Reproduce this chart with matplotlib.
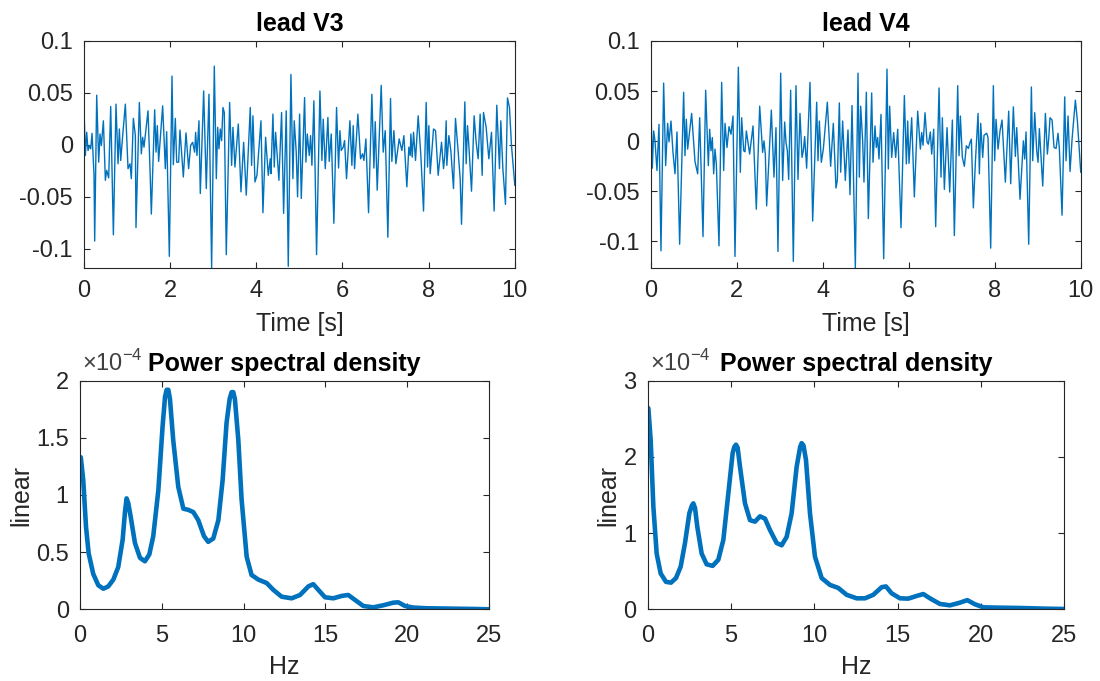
import numpy as np
import matplotlib
matplotlib.use("Agg")
import matplotlib.pyplot as plt

plt.rcParams['font.family'] = ['Liberation Sans', 'DejaVu Sans']
plt.rcParams['axes.unicode_minus'] = False
plt.rcParams['mathtext.fontset'] = 'custom'
plt.rcParams['mathtext.rm'] = 'Liberation Sans'

# ---- lead V3 (time [s], amplitude)
t_v3 = [0.000, 0.031, 0.062, 0.093, 0.124, 0.155, 0.186, 0.232, 0.247, 0.294, 0.340, 0.371, 0.402, 0.449,
        0.495, 0.526, 0.572, 0.619, 0.681, 0.742, 0.789, 0.820, 0.851, 0.897, 0.959, 1.021, 1.067, 1.098,
        1.145, 1.191, 1.206, 1.284, 1.330, 1.361, 1.392, 1.485, 1.531, 1.562, 1.640, 1.671, 1.701, 1.732,
        1.825, 1.887, 1.918, 1.980, 2.042, 2.073, 2.119, 2.150, 2.196, 2.227, 2.305, 2.367, 2.428, 2.475,
        2.521, 2.568, 2.591, 2.622, 2.668, 2.699, 2.777, 2.838, 2.900, 2.962, 3.024, 3.071, 3.102, 3.132,
        3.163, 3.194, 3.225, 3.256, 3.302, 3.380, 3.426, 3.457, 3.503, 3.581, 3.643, 3.705, 3.766, 3.859,
        3.890, 3.921, 3.968, 4.014, 4.107, 4.153, 4.215, 4.277, 4.323, 4.339, 4.385, 4.416, 4.447, 4.524,
        4.586, 4.633, 4.694, 4.741, 4.803, 4.849, 4.880, 4.926, 4.957, 5.004, 5.043, 5.120, 5.151, 5.182,
        5.228, 5.259, 5.290, 5.336, 5.398, 5.476, 5.522, 5.553, 5.600, 5.661, 5.692, 5.739, 5.800, 5.862,
        5.909, 5.940, 5.971, 6.017, 6.048, 6.094, 6.172, 6.218, 6.249, 6.280, 6.357, 6.419, 6.466, 6.497,
        6.543, 6.605, 6.682, 6.729, 6.760, 6.806, 6.899, 6.945, 6.992, 7.053, 7.115, 7.146, 7.193, 7.239,
        7.316, 7.378, 7.425, 7.494, 7.541, 7.572, 7.587, 7.618, 7.649, 7.695, 7.757, 7.819, 7.881, 7.943,
        7.974, 8.005, 8.036, 8.113, 8.160, 8.221, 8.299, 8.345, 8.376, 8.407, 8.422, 8.469, 8.515, 8.577,
        8.623, 8.685, 8.732, 8.763, 8.840, 8.871, 8.902, 8.933, 8.995, 9.056, 9.103, 9.149, 9.196, 9.242,
        9.273, 9.335, 9.397, 9.459, 9.520, 9.582, 9.644, 9.675, 9.722, 9.783, 9.830, 9.876, 9.923, 10.000]
v3 = [0.0338, -0.0102, 0.0121, -0.0054, -0.0006, -0.0038, 0.0111, -0.0293, -0.0926, 0.0478, -0.0166, 0.0105,
      -0.0006, 0.0232, -0.0341, -0.0245, -0.0318, 0.0369, -0.0866, 0.0392, -0.0182, 0.0153, -0.0150, 0.0089,
      0.0392, -0.0229, -0.0182, -0.0325, 0.0255, 0.0089, -0.0796, 0.0408, -0.0086, 0.0073, -0.0022, 0.0328,
      -0.0229, -0.0666, 0.0338, -0.0070, 0.0185, -0.0159, 0.0376, -0.0229, 0.0127, -0.1073, 0.0662, -0.0191,
      0.0255, -0.0166, -0.0166, 0.0143, -0.0309, 0.0115, -0.0229, -0.0006, 0.0025, -0.0070, 0.0121, -0.0102,
      0.0232, -0.0468, 0.0519, -0.0420, 0.0487, -0.1185, 0.0758, -0.0325, 0.0169, -0.0038, 0.0153, 0.0041,
      0.0360, 0.0312, -0.1057, 0.0408, -0.0197, 0.0169, -0.0213, 0.0201, -0.0452, 0.0025, -0.0484, 0.0360,
      -0.0197, 0.0280, -0.0357, -0.0293, 0.0232, -0.0653, 0.0073, -0.0293, -0.0134, -0.0277, 0.0296, -0.0213,
      0.0121, -0.0341, 0.0312, -0.0659, 0.0328, -0.1169, 0.0678, -0.0325, 0.0232, -0.0070, -0.0500, 0.0296,
      -0.0516, 0.0455, -0.0166, 0.0105, -0.0102, 0.0089, -0.0197, 0.0424, -0.1057, 0.0519, -0.0150, 0.0248,
      -0.0229, 0.0264, -0.0159, 0.0105, -0.0755, 0.0360, -0.0223, 0.0137, -0.0054, -0.0022, 0.0041, -0.0325,
      0.0232, -0.0197, 0.0185, -0.0229, 0.0296, -0.0134, -0.0086, -0.0150, 0.0057, -0.0653, 0.0487, -0.0223,
      0.0223, -0.0436, 0.0573, -0.0070, 0.0137, -0.0889, 0.0446, -0.0159, 0.0137, -0.0182, 0.0057, -0.0054,
      0.0089, -0.0404, -0.0022, -0.0102, 0.0105, -0.0118, 0.0121, -0.0150, 0.0280, -0.0102, -0.0637, 0.0408,
      -0.0213, 0.0185, -0.0277, 0.0153, 0.0137, -0.0293, 0.0025, -0.0229, -0.0102, 0.0232, -0.0197, 0.0089,
      -0.0054, -0.0420, 0.0255, -0.0064, -0.0325, -0.0764, 0.0414, -0.0182, 0.0185, -0.0006, -0.0446, 0.0280,
      0.0025, -0.0134, 0.0296, -0.0293, 0.0312, 0.0169, -0.0134, 0.0121, -0.0637, 0.0382, -0.0229, 0.0232,
      -0.0223, -0.0573, 0.0452, 0.0360, -0.0006, -0.0389]

# ---- lead V4
t_v4 = [0.000, 0.039, 0.070, 0.101, 0.147, 0.194, 0.240, 0.302, 0.349, 0.395, 0.426, 0.473, 0.519, 0.566,
        0.612, 0.674, 0.767, 0.798, 0.829, 0.860, 0.953, 1.031, 1.093, 1.140, 1.217, 1.279, 1.341, 1.372,
        1.403, 1.434, 1.465, 1.496, 1.527, 1.589, 1.651, 1.698, 1.729, 1.775, 1.822, 1.868, 1.915, 1.961,
        2.039, 2.085, 2.116, 2.163, 2.194, 2.225, 2.302, 2.380, 2.457, 2.535, 2.573, 2.604, 2.635, 2.666,
        2.697, 2.806, 2.867, 2.914, 2.960, 3.023, 3.069, 3.116, 3.147, 3.178, 3.209, 3.255, 3.317, 3.379,
        3.426, 3.472, 3.519, 3.550, 3.581, 3.627, 3.705, 3.767, 3.860, 3.891, 3.922, 3.968, 4.015, 4.108,
        4.185, 4.247, 4.309, 4.340, 4.387, 4.418, 4.464, 4.526, 4.588, 4.635, 4.682, 4.759, 4.821, 4.852,
        4.883, 4.929, 4.960, 5.015, 5.061, 5.139, 5.170, 5.216, 5.247, 5.278, 5.309, 5.356, 5.418, 5.495,
        5.526, 5.557, 5.604, 5.650, 5.697, 5.744, 5.821, 5.899, 5.945, 5.976, 6.007, 6.069, 6.131, 6.209,
        6.271, 6.302, 6.333, 6.379, 6.426, 6.457, 6.503, 6.534, 6.581, 6.627, 6.705, 6.751, 6.782, 6.829,
        6.891, 6.953, 7.015, 7.061, 7.139, 7.170, 7.201, 7.247, 7.294, 7.340, 7.387, 7.426, 7.457, 7.503,
        7.550, 7.612, 7.643, 7.674, 7.720, 7.751, 7.813, 7.844, 7.906, 7.968, 7.999, 8.030, 8.077, 8.123,
        8.170, 8.247, 8.325, 8.371, 8.433, 8.480, 8.511, 8.588, 8.666, 8.697, 8.728, 8.790, 8.852, 8.883,
        8.930, 8.976, 9.007, 9.038, 9.116, 9.178, 9.224, 9.255, 9.286, 9.333, 9.379, 9.426, 9.472, 9.503,
        9.565, 9.627, 9.658, 9.705, 9.751, 9.798, 9.875, 9.922, 10.000]
v4 = [0.0498, -0.0270, 0.0102, 0.0003, -0.0293, 0.0168, -0.1095, 0.0580, -0.0244, 0.0178, -0.0007, 0.0201,
      -0.0112, -0.0326, 0.0092, -0.1029, 0.0488, -0.0145, 0.0218, -0.0079, 0.0277, -0.0204, -0.0326, 0.0234,
      -0.0953, 0.0508, -0.0244, 0.0119, -0.0096, 0.0036, -0.0326, -0.0079, -0.0227, -0.1045, 0.0587, -0.0293,
      0.0178, -0.0063, 0.0145, 0.0069, 0.0251, -0.1151, 0.0739, -0.0310, 0.0234, -0.0096, -0.0106, 0.0102,
      -0.0129, 0.0152, -0.0679, 0.0349, 0.0102, -0.0112, 0.0003, -0.0129, -0.0646, 0.0310, -0.0359, 0.0135,
      -0.1101, 0.0679, -0.0392, 0.0191, -0.0013, -0.0096, -0.0382, 0.0508, -0.1200, 0.0554, -0.0382, 0.0277,
      -0.0162, -0.0096, 0.0046, -0.0270, 0.0587, -0.0798, 0.0389, -0.0195, 0.0201, -0.0211, -0.0079, 0.0389,
      -0.0251, 0.0178, -0.0468, -0.0392, 0.0382, -0.0310, 0.0201, -0.0392, 0.0112, -0.0534, 0.0356, -0.1266,
      0.0679, -0.0359, 0.0349, 0.0003, -0.0409, 0.0488, -0.0772, 0.0481, -0.0211, 0.0152, -0.0063, 0.0036,
      -0.0178, 0.0267, -0.1174, 0.0719, -0.0277, 0.0349, -0.0162, 0.0086, -0.0162, 0.0119, -0.0864, 0.0455,
      -0.0227, 0.0201, -0.0221, 0.0234, -0.0557, 0.0300, -0.0079, 0.0086, -0.0040, 0.0284, -0.0007, -0.0030,
      0.0092, -0.0129, 0.0119, -0.0854, 0.0531, -0.0359, 0.0234, -0.0481, 0.0135, -0.0508, 0.0211, -0.0943,
      0.0554, -0.0145, 0.0251, -0.0162, -0.0251, -0.0046, -0.0073, -0.0013, 0.0020, -0.0666, -0.0211, 0.0277,
      -0.0326, 0.0178, -0.0162, 0.0059, 0.0079, 0.0036, -0.1068, 0.0554, -0.0195, 0.0218, -0.0079, 0.0102,
      0.0211, -0.0409, 0.0300, -0.0425, 0.0343, -0.0152, 0.0135, -0.0580, 0.0003, -0.0178, 0.0092, -0.1029,
      0.0541, -0.0195, 0.0284, -0.0096, -0.0211, 0.0125, -0.0448, 0.0277, -0.0129, 0.0026, 0.0234, 0.0211,
      -0.0063, -0.0073, 0.0079, -0.0079, -0.0739, 0.0442, -0.0195, 0.0251, -0.0303, 0.0020, 0.0409, 0.0201,
      -0.0310]

# ---- PSD (Hz, value in units of 1e-4)
f_v3 = [0.05, 0.2, 0.37, 0.53, 0.81, 1.12, 1.43, 1.73, 2.04, 2.34, 2.61, 2.75, 2.85, 2.95, 3.10, 3.36, 3.67,
        3.97, 4.24, 4.48, 4.79, 5.05, 5.20, 5.30, 5.40, 5.50, 5.70, 6.01, 6.32, 6.62, 6.93, 7.23, 7.58, 7.84,
        8.15, 8.46, 8.72, 8.96, 9.15, 9.27, 9.37, 9.47, 9.68, 9.88, 10.19, 10.49, 10.90, 11.41, 11.82, 12.33,
        12.94, 13.45, 13.96, 14.26, 14.57, 14.98, 15.49, 16.00, 16.40, 16.81, 17.32, 17.93, 18.54, 19.15,
        19.46, 19.87, 20.37, 21.19, 22.62, 24.04, 25.0]
psd_v3 = [1.33, 1.13, 0.72, 0.49, 0.31, 0.21, 0.18, 0.20, 0.26, 0.37, 0.61, 0.85, 0.97, 0.93, 0.81, 0.58,
          0.45, 0.42, 0.48, 0.64, 1.04, 1.60, 1.86, 1.92, 1.92, 1.84, 1.48, 1.07, 0.88, 0.87, 0.85, 0.78,
          0.64, 0.59, 0.62, 0.78, 1.13, 1.63, 1.84, 1.90, 1.90, 1.84, 1.48, 0.96, 0.46, 0.30, 0.26, 0.23,
          0.17, 0.11, 0.096, 0.125, 0.20, 0.22, 0.17, 0.105, 0.096, 0.117, 0.125, 0.082, 0.029, 0.017, 0.035,
          0.058, 0.061, 0.029, 0.015, 0.009, 0.006, 0.003, 0.0]

f_v4 = [0.04, 0.18, 0.34, 0.54, 0.78, 1.10, 1.40, 1.70, 1.98, 2.24, 2.50, 2.65, 2.74, 2.84, 2.98, 3.24, 3.54,
        3.90, 4.24, 4.54, 4.84, 5.10, 5.20, 5.30, 5.40, 5.54, 5.84, 6.14, 6.44, 6.74, 7.04, 7.34, 7.74, 8.04,
        8.34, 8.64, 8.94, 9.15, 9.24, 9.35, 9.50, 9.74, 10.04, 10.44, 10.94, 11.44, 11.94, 12.54, 13.04,
        13.54, 14.04, 14.30, 14.64, 15.14, 15.64, 16.14, 16.54, 16.94, 17.54, 18.14, 18.74, 19.18, 19.64,
        20.14, 20.94, 22.34, 23.74, 25.0]
psd_v4 = [2.64, 2.22, 1.35, 0.73, 0.47, 0.36, 0.35, 0.41, 0.56, 0.87, 1.26, 1.36, 1.39, 1.33, 1.08, 0.73,
          0.59, 0.57, 0.65, 0.91, 1.52, 2.05, 2.13, 2.16, 2.12, 1.87, 1.39, 1.17, 1.15, 1.22, 1.19, 1.04,
          0.87, 0.84, 0.95, 1.26, 1.87, 2.13, 2.18, 2.15, 1.96, 1.26, 0.69, 0.41, 0.32, 0.28, 0.19, 0.144,
          0.144, 0.19, 0.29, 0.30, 0.21, 0.144, 0.14, 0.175, 0.20, 0.144, 0.07, 0.052, 0.087, 0.12, 0.066,
          0.026, 0.022, 0.017, 0.009, 0.004]

blue = '#0072BD'
axcol = '#262626'

fig = plt.figure(figsize=(11, 6.81), dpi=100)


def style(ax, xpad=9):
    ax.tick_params(direction='in', length=4, width=0.8, top=True, right=True,
                   labelsize=17, colors=axcol, labelcolor=axcol)
    ax.tick_params(axis='x', pad=xpad)
    ax.tick_params(axis='y', pad=8)
    for s in ax.spines.values():
        s.set_color(axcol)
        s.set_linewidth(0.8)


# top row: raw leads
for pos, t, v, name, ymin in [([0.0764, 0.6065, 0.3916, 0.3333], t_v3, v3, 'lead V3', -0.1185),
                              ([0.5915, 0.6065, 0.3910, 0.3333], t_v4, v4, 'lead V4', -0.1266)]:
    ax = fig.add_axes(pos)
    ax.plot(t, v, color=blue, lw=1.0)
    ax.set_xlim(0, 10)
    ax.set_ylim(ymin, 0.1)
    ax.set_xticks([0, 2, 4, 6, 8, 10])
    ax.set_yticks([-0.1, -0.05, 0, 0.05, 0.1])
    ax.set_yticklabels(['-0.1', '-0.05', '0', '0.05', '0.1'])
    ax.set_title(name, fontsize=18, fontweight='bold', pad=7)
    ax.set_xlabel('Time [s]', fontsize=18, color=axcol, labelpad=7)
    style(ax)

# bottom row: PSD
for pos, f, p, ytop, yt in [([0.0727, 0.1053, 0.3718, 0.3357], f_v3, psd_v3, 2, [0, 0.5, 1, 1.5, 2]),
                            ([0.5888, 0.1053, 0.3787, 0.3357], f_v4, psd_v4, 3, [0, 1, 2, 3])]:
    ax = fig.add_axes(pos)
    ax.plot(f, p, color=blue, lw=3.3, solid_joinstyle='round', solid_capstyle='round')
    ax.set_xlim(0, 25)
    ax.set_ylim(0, ytop)
    ax.set_xticks([0, 5, 10, 15, 20, 25])
    ax.set_yticks(yt)
    ax.set_yticklabels([('%g' % y) for y in yt])
    ax.set_title('Power spectral density', fontsize=18, fontweight='bold', pad=7)
    ax.set_xlabel('Hz', fontsize=18, color=axcol, labelpad=6)
    ax.set_ylabel('linear', fontsize=18, color=axcol, labelpad=2)
    ax.text(0.005, 1.02, r'$\times 10^{-4}$', transform=ax.transAxes, fontsize=17,
            color='#404040', ha='left', va='bottom')
    style(ax, xpad=11)

fig.savefig('out.png', dpi=100)
